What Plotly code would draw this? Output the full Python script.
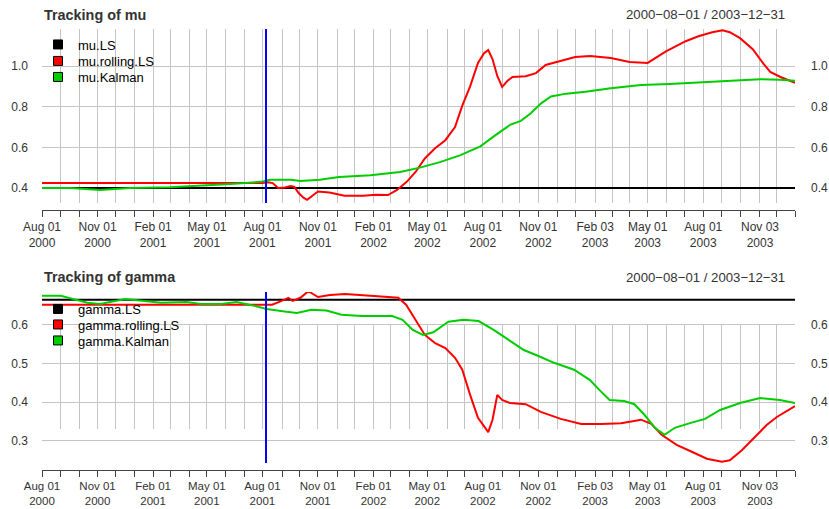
import pandas as pd
import plotly.graph_objects as go

W, H = 829, 509


def fx(p):
    return p / W


def fy(p):
    return 1 - p / H


START, END = "2000-08-01", "2003-12-31"
SPLIT_DATE = "2001-08-07"

# ---------------- data: mu panel ----------------
mu_ls_dates = [START, END]
mu_ls_vals = [0.400, 0.400]

mu_roll_dates = [
    "2000-08-01", "2001-08-01", "2001-08-10", "2001-08-18", "2001-08-27", "2001-09-07",
    "2001-09-17", "2001-09-23", "2001-09-30", "2001-10-08", "2001-10-14", "2001-10-22",
    "2001-11-01", "2001-11-20", "2001-12-15", "2002-01-15", "2002-02-05", "2002-02-25",
    "2002-03-12", "2002-03-28", "2002-04-12", "2002-04-27", "2002-05-14", "2002-05-31",
    "2002-06-16", "2002-06-28", "2002-07-11", "2002-07-24", "2002-08-03", "2002-08-10",
    "2002-08-17", "2002-08-25", "2002-09-02", "2002-09-11", "2002-09-19", "2002-10-11",
    "2002-10-28", "2002-11-13", "2002-12-08", "2003-01-01", "2003-01-26", "2003-03-01",
    "2003-04-01", "2003-05-01", "2003-06-01", "2003-07-03", "2003-07-24", "2003-08-16",
    "2003-09-02", "2003-09-14", "2003-10-01", "2003-10-22", "2003-11-09", "2003-11-20",
    "2003-12-07", "2003-12-31",
]
mu_roll_vals = [
    0.424, 0.424, 0.428, 0.424, 0.400, 0.402,
    0.410, 0.405, 0.375, 0.352, 0.342, 0.360,
    0.383, 0.378, 0.362, 0.362, 0.367, 0.365,
    0.390, 0.430, 0.480, 0.545, 0.595, 0.635,
    0.700, 0.805, 0.900, 1.015, 1.063, 1.078,
    1.034, 0.951, 0.897, 0.927, 0.946, 0.950,
    0.965, 1.005, 1.024, 1.044, 1.049, 1.039,
    1.020, 1.015, 1.073, 1.122, 1.146, 1.166,
    1.176, 1.166, 1.137, 1.083, 1.010, 0.971,
    0.946, 0.917,
]

mu_kal_dates = [
    "2000-08-01", "2000-09-17", "2000-11-05", "2000-12-25", "2001-03-01", "2001-04-21",
    "2001-06-09", "2001-07-29", "2001-08-14", "2001-09-17", "2001-10-03", "2001-11-04",
    "2001-12-06", "2002-01-27", "2002-03-17", "2002-04-19", "2002-05-22", "2002-06-24",
    "2002-07-28", "2002-08-22", "2002-09-16", "2002-10-03", "2002-10-19", "2002-11-05",
    "2002-11-22", "2002-12-17", "2003-01-18", "2003-03-01", "2003-04-20", "2003-06-06",
    "2003-07-25", "2003-09-14", "2003-11-03", "2003-12-06", "2003-12-31",
]
mu_kal_vals = [
    0.400, 0.400, 0.390, 0.400, 0.403, 0.410,
    0.420, 0.430, 0.440, 0.440, 0.434, 0.440,
    0.454, 0.463, 0.478, 0.500, 0.527, 0.560,
    0.605, 0.660, 0.712, 0.730, 0.766, 0.815,
    0.850, 0.864, 0.873, 0.890, 0.907, 0.912,
    0.920, 0.927, 0.935, 0.932, 0.927,
]

# ---------------- data: gamma panel ----------------
gamma_ls_dates = [START, END]
gamma_ls_vals = [0.665, 0.665]

gamma_roll_dates = [
    "2000-08-01", "2001-08-17", "2001-08-30", "2001-09-13", "2001-09-20", "2001-10-03",
    "2001-10-16", "2001-11-01", "2001-11-21", "2001-12-16", "2002-01-27", "2002-03-01",
    "2002-03-14", "2002-03-27", "2002-04-10", "2002-04-27", "2002-05-14", "2002-05-31",
    "2002-06-16", "2002-06-28", "2002-07-11", "2002-07-24", "2002-08-05", "2002-08-10",
    "2002-08-17", "2002-08-25", "2002-09-02", "2002-09-15", "2002-10-11", "2002-11-05",
    "2002-12-08", "2003-01-11", "2003-02-13", "2003-03-18", "2003-04-20", "2003-05-07",
    "2003-05-24", "2003-06-18", "2003-07-13", "2003-08-07", "2003-09-01", "2003-09-14",
    "2003-10-04", "2003-10-29", "2003-11-14", "2003-12-01", "2003-12-26", "2003-12-31",
]
gamma_roll_vals = [
    0.652, 0.652, 0.660, 0.670, 0.662, 0.670,
    0.687, 0.672, 0.677, 0.680, 0.675, 0.672,
    0.670, 0.652, 0.618, 0.574, 0.553, 0.540,
    0.515, 0.484, 0.419, 0.360, 0.334, 0.323,
    0.354, 0.419, 0.406, 0.398, 0.395, 0.375,
    0.357, 0.344, 0.344, 0.346, 0.355, 0.344,
    0.316, 0.290, 0.272, 0.254, 0.246, 0.250,
    0.276, 0.316, 0.341, 0.362, 0.385, 0.390,
]

gamma_kal_dates = [
    "2000-08-01", "2000-09-01", "2000-10-15", "2000-11-05", "2000-12-17", "2001-01-11",
    "2001-02-14", "2001-03-28", "2001-04-21", "2001-05-25", "2001-06-19", "2001-07-14",
    "2001-08-08", "2001-09-10", "2001-09-27", "2001-10-21", "2001-11-15", "2001-12-10",
    "2002-01-13", "2002-03-04", "2002-03-21", "2002-04-07", "2002-04-24", "2002-05-11",
    "2002-06-05", "2002-06-30", "2002-07-25", "2002-08-19", "2002-09-13", "2002-10-08",
    "2002-11-02", "2002-11-27", "2002-12-30", "2003-01-25", "2003-02-10", "2003-02-27",
    "2003-03-23", "2003-04-09", "2003-04-26", "2003-05-13", "2003-05-29", "2003-06-15",
    "2003-07-10", "2003-08-04", "2003-08-29", "2003-10-01", "2003-11-03", "2003-12-06",
    "2003-12-31",
]
gamma_kal_vals = [
    0.675, 0.675, 0.657, 0.654, 0.667, 0.662,
    0.657, 0.659, 0.654, 0.654, 0.659, 0.651,
    0.641, 0.634, 0.631, 0.639, 0.637, 0.626,
    0.623, 0.623, 0.613, 0.587, 0.574, 0.581,
    0.608, 0.613, 0.610, 0.587, 0.561, 0.535,
    0.519, 0.502, 0.484, 0.458, 0.432, 0.406,
    0.403, 0.395, 0.367, 0.334, 0.316, 0.334,
    0.346, 0.357, 0.380, 0.398, 0.411, 0.406,
    0.398,
]

# ---------------- axis labels ----------------
label_dates = ["2000-08-01", "2000-11-01", "2001-02-01", "2001-05-01", "2001-08-01",
               "2001-11-01", "2002-02-01", "2002-05-01", "2002-08-01", "2002-11-01",
               "2003-02-03", "2003-05-01", "2003-08-01", "2003-11-03"]
label_md = ["Aug 01", "Nov 01", "Feb 01", "May 01", "Aug 01", "Nov 01", "Feb 01",
            "May 01", "Aug 01", "Nov 01", "Feb 03", "May 01", "Aug 01", "Nov 03"]
label_year = ["2000", "2000", "2001", "2001", "2001", "2001", "2002",
              "2002", "2002", "2002", "2003", "2003", "2003", "2003"]

mu_ticks = [0.4, 0.6, 0.8, 1.0]
gamma_ticks = [0.3, 0.4, 0.5, 0.6]
mu_range = [0.326, 1.182]
gamma_range = [0.243, 0.685]

# month grid / tick dates (first business day of each month + last day)
grid_dates = [d.strftime("%Y-%m-%d") for d in pd.date_range(START, END, freq="BMS")] + [END]
lab_map = {d: f"{m}<br>{y}" for d, m, y in zip(label_dates, label_md, label_year)}
tick_text = [lab_map.get(d, "") for d in grid_dates]

FONT = "Liberation Sans, Arial, Helvetica, sans-serif"
TXT = "#333333"
GRID = "#c4c4c4"
AXC = "#444444"
RED, GREEN, BLUE = "#FF0000", "#00CD00", "#0000FF"

fig = go.Figure()


def ghost(xa, ya):
    """empty trace so that an axis pair is registered and drawn"""
    fig.add_trace(go.Scatter(x=[None], y=[None], mode="lines", showlegend=False,
                             xaxis=xa, yaxis=ya, hoverinfo="skip"))


# ---- top panel traces ----
fig.add_trace(go.Scatter(x=mu_ls_dates, y=mu_ls_vals, mode="lines", line=dict(color="black", width=2),
                         showlegend=False, xaxis="x", yaxis="y", hoverinfo="skip"))
fig.add_trace(go.Scatter(x=mu_roll_dates, y=mu_roll_vals, mode="lines", line=dict(color=RED, width=2),
                         showlegend=False, xaxis="x", yaxis="y"))
fig.add_trace(go.Scatter(x=mu_kal_dates, y=mu_kal_vals, mode="lines", line=dict(color=GREEN, width=2),
                         showlegend=False, xaxis="x", yaxis="y"))
ghost("x", "y2")
ghost("x2", "y")

# ---- bottom grid-only subplot (vertical grid lines) ----
ghost("x3", "y3")

# ---- bottom panel traces ----
fig.add_trace(go.Scatter(x=gamma_ls_dates, y=gamma_ls_vals, mode="lines", line=dict(color="black", width=2),
                         showlegend=False, xaxis="x4", yaxis="y4", hoverinfo="skip"))
fig.add_trace(go.Scatter(x=gamma_roll_dates, y=gamma_roll_vals, mode="lines", line=dict(color=RED, width=2),
                         showlegend=False, xaxis="x4", yaxis="y4"))
fig.add_trace(go.Scatter(x=gamma_kal_dates, y=gamma_kal_vals, mode="lines", line=dict(color=GREEN, width=2),
                         showlegend=False, xaxis="x4", yaxis="y4"))
ghost("x4", "y5")
ghost("x5", "y4")

# ---- legend entries (one legend per row for exact spacing) ----
legend_rows = [
    ("mu.LS", "black", "legend", 44.5, "x", "y"),
    ("mu.rolling.LS", RED, "legend2", 61.0, "x", "y"),
    ("mu.Kalman", GREEN, "legend3", 77.0, "x", "y"),
    ("gamma.LS", "black", "legend4", 309.0, "x4", "y4"),
    ("gamma.rolling.LS", RED, "legend5", 324.5, "x4", "y4"),
    ("gamma.Kalman", GREEN, "legend6", 340.5, "x4", "y4"),
]
LEG_X = 38
legend_layout = {}
for name, col, leg, ypix, xa, ya in legend_rows:
    fig.add_trace(go.Scatter(x=[None], y=[None], mode="markers", name=name,
                             marker=dict(symbol="square", size=9, color=col,
                                         line=dict(color="black", width=1)),
                             legend=leg, xaxis=xa, yaxis=ya, showlegend=True))
    legend_layout[leg] = dict(x=fx(LEG_X), y=fy(ypix), xanchor="left", yanchor="middle",
                              bgcolor="rgba(0,0,0,0)", borderwidth=0,
                              font=dict(family=FONT, size=13, color="black"),
                              itemclick=False, itemdoubleclick=False)

xdom = [fx(42), fx(795)]

common_grid_x = dict(type="date", range=[START, END], tickvals=grid_dates, showticklabels=False,
                     ticks="", showgrid=True, gridcolor=GRID, gridwidth=1, zeroline=False,
                     showline=False, fixedrange=True, automargin=False)


def tick_axis(overlay, pos, fsize):
    return dict(type="date", range=[START, END], overlaying=overlay, anchor="free", position=pos,
                tickvals=grid_dates, ticktext=tick_text, ticks="outside", ticklen=6, tickwidth=1,
                tickcolor=AXC, showline=True, linecolor=AXC, linewidth=1, showgrid=False,
                zeroline=False, side="bottom", ticklabelstandoff=0, automargin=False,
                tickfont=dict(family=FONT, size=fsize, color=TXT), tickangle=0, fixedrange=True)


def yaxis_left(dom, rng, tv, anchor):
    return dict(domain=dom, anchor=anchor, range=rng, tickvals=tv,
                ticktext=[f"{v:.1f}" for v in tv],
                showgrid=True, gridcolor=GRID, gridwidth=1, ticks="", zeroline=False,
                showline=False, ticklabelstandoff=13, automargin=False,
                tickfont=dict(family=FONT, size=12, color=TXT), fixedrange=True)


def yaxis_right(overlay, rng, tv, anchor):
    return dict(overlaying=overlay, side="right", anchor=anchor, range=rng, tickvals=tv,
                ticktext=[f"{v:.1f}" for v in tv], showgrid=False, ticks="", zeroline=False,
                showline=False, ticklabelstandoff=15, automargin=False,
                tickfont=dict(family=FONT, size=12, color=TXT), fixedrange=True)


top_dom = [fy(203), fy(29)]
bot_dom = [fy(463), fy(292)]
vgrid_dom = [fy(429), fy(325)]

fig.update_layout(
    template="none",
    width=W, height=H,
    margin=dict(l=0, r=0, t=0, b=0, pad=0, autoexpand=False),
    paper_bgcolor="white", plot_bgcolor="rgba(0,0,0,0)",
    font=dict(family=FONT, color=TXT),
    xaxis=dict(domain=xdom, anchor="y", **common_grid_x),
    yaxis=yaxis_left(top_dom, mu_range, mu_ticks, "x"),
    yaxis2=yaxis_right("y", mu_range, mu_ticks, "x"),
    xaxis2=tick_axis("x", fy(209.5), 12),
    xaxis3=dict(domain=xdom, anchor="y3", **common_grid_x),
    yaxis3=dict(domain=vgrid_dom, anchor="x3", range=[0, 1], visible=False, fixedrange=True,
                automargin=False),
    xaxis4=dict(domain=xdom, anchor="y4", type="date", range=[START, END], showgrid=False,
                showticklabels=False, ticks="", zeroline=False, showline=False, fixedrange=True,
                automargin=False),
    yaxis4=yaxis_left(bot_dom, gamma_range, gamma_ticks, "x4"),
    yaxis5=yaxis_right("y4", gamma_range, gamma_ticks, "x4"),
    xaxis5=tick_axis("x4", fy(469.5), 11.5),
    showlegend=True,
    **legend_layout,
)

# split marker (vertical blue line)
fig.add_shape(type="line", xref="x", yref="y domain", x0=SPLIT_DATE, x1=SPLIT_DATE, y0=0, y1=1,
              line=dict(color=BLUE, width=2), layer="above")
fig.add_shape(type="line", xref="x4", yref="y4 domain", x0=SPLIT_DATE, x1=SPLIT_DATE, y0=0, y1=1,
              line=dict(color=BLUE, width=2), layer="above")

# titles
for title, ypix in [("Tracking of mu", 15), ("Tracking of gamma", 277)]:
    fig.add_annotation(text=f"<b>{title}</b>", xref="paper", yref="paper", x=fx(42), y=fy(ypix),
                       xanchor="left", yanchor="middle", showarrow=False,
                       font=dict(family=FONT, size=14.4, color=TXT))
    fig.add_annotation(text="2000\u221208\u221201 / 2003\u221212\u221231", xref="paper", yref="paper",
                       x=fx(787), y=fy(ypix), xanchor="right", yanchor="middle", showarrow=False,
                       font=dict(family=FONT, size=13.2, color=TXT))

fig.write_html("out.html", config={"displayModeBar": False},
               post_script="document.body.style.margin='0';document.body.style.overflow='hidden';")
